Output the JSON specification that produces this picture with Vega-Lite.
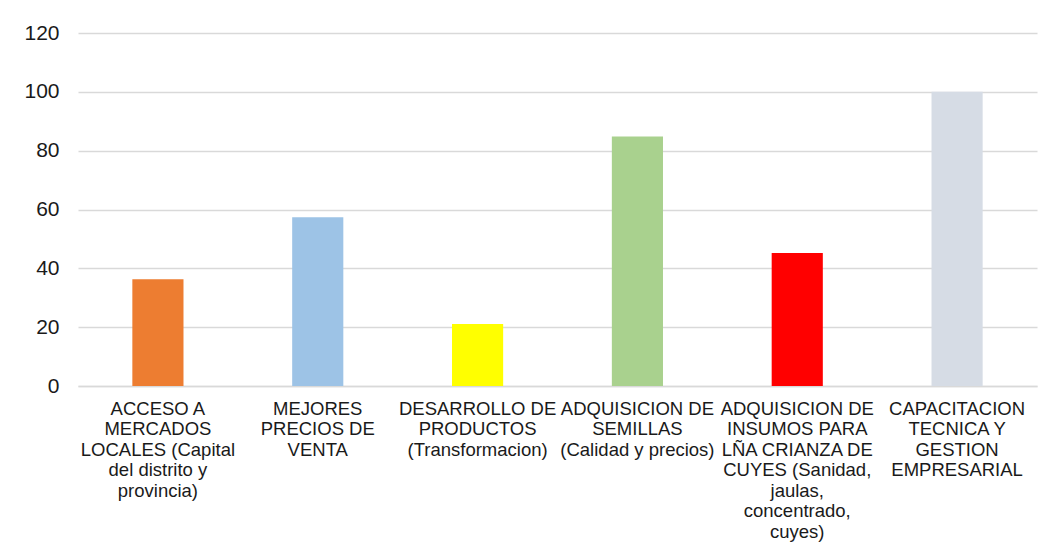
{
  "$schema": "https://vega.github.io/schema/vega-lite/v6.json",
  "autosize": {"type": "none"},
  "width": 959,
  "height": 353,
  "padding": {"left": 78, "top": 33, "right": 11, "bottom": 163},
  "background": "white",
  "config": {
    "font": "Liberation Sans",
    "view": {"stroke": null}
  },
  "data": {
    "values": [
      {"categoria": "ACCESO A|MERCADOS|LOCALES (Capital|del distrito y|provincia)", "valor": 36.3},
      {"categoria": "MEJORES|PRECIOS DE|VENTA", "valor": 57.4},
      {"categoria": "DESARROLLO DE|PRODUCTOS|(Transformacion)", "valor": 21.1},
      {"categoria": "ADQUISICION DE|SEMILLAS|(Calidad y precios)", "valor": 84.8},
      {"categoria": "ADQUISICION DE|INSUMOS PARA|LÑA CRIANZA DE|CUYES (Sanidad,|jaulas,|concentrado,|cuyes)", "valor": 45.2},
      {"categoria": "CAPACITACION|TECNICA Y|GESTION|EMPRESARIAL", "valor": 100}
    ]
  },
  "mark": {"type": "bar"},
  "encoding": {
    "x": {
      "field": "categoria",
      "type": "nominal",
      "sort": null,
      "title": null,
      "scale": {"paddingInner": 0.68, "paddingOuter": 0.34},
      "axis": {
        "labelAngle": 0,
        "labelExpr": "split(datum.value, '|')",
        "labelFontSize": 18.5,
        "labelLineHeight": 20.5,
        "labelColor": "#1a1a1a",
        "labelLimit": 0,
        "labelPadding": 13,
        "labelBaseline": "top",
        "ticks": false,
        "domainColor": "#d9d9d9",
        "domainWidth": 1.3,
        "labelOverlap": false
      }
    },
    "y": {
      "field": "valor",
      "type": "quantitative",
      "title": null,
      "scale": {"domain": [0, 120]},
      "axis": {
        "values": [0, 20, 40, 60, 80, 100, 120],
        "labelFontSize": 21,
        "labelColor": "#1a1a1a",
        "labelPadding": 19,
        "ticks": false,
        "domain": false,
        "gridColor": "#d9d9d9",
        "gridWidth": 1.3
      }
    },
    "color": {
      "field": "categoria",
      "type": "nominal",
      "sort": null,
      "legend": null,
      "scale": {
        "domain": [
          "ACCESO A|MERCADOS|LOCALES (Capital|del distrito y|provincia)",
          "MEJORES|PRECIOS DE|VENTA",
          "DESARROLLO DE|PRODUCTOS|(Transformacion)",
          "ADQUISICION DE|SEMILLAS|(Calidad y precios)",
          "ADQUISICION DE|INSUMOS PARA|LÑA CRIANZA DE|CUYES (Sanidad,|jaulas,|concentrado,|cuyes)",
          "CAPACITACION|TECNICA Y|GESTION|EMPRESARIAL"
        ],
        "range": ["#ED7D31", "#9DC3E6", "#FFFF00", "#A9D18E", "#FF0000", "#D6DCE5"]
      }
    }
  }
}
